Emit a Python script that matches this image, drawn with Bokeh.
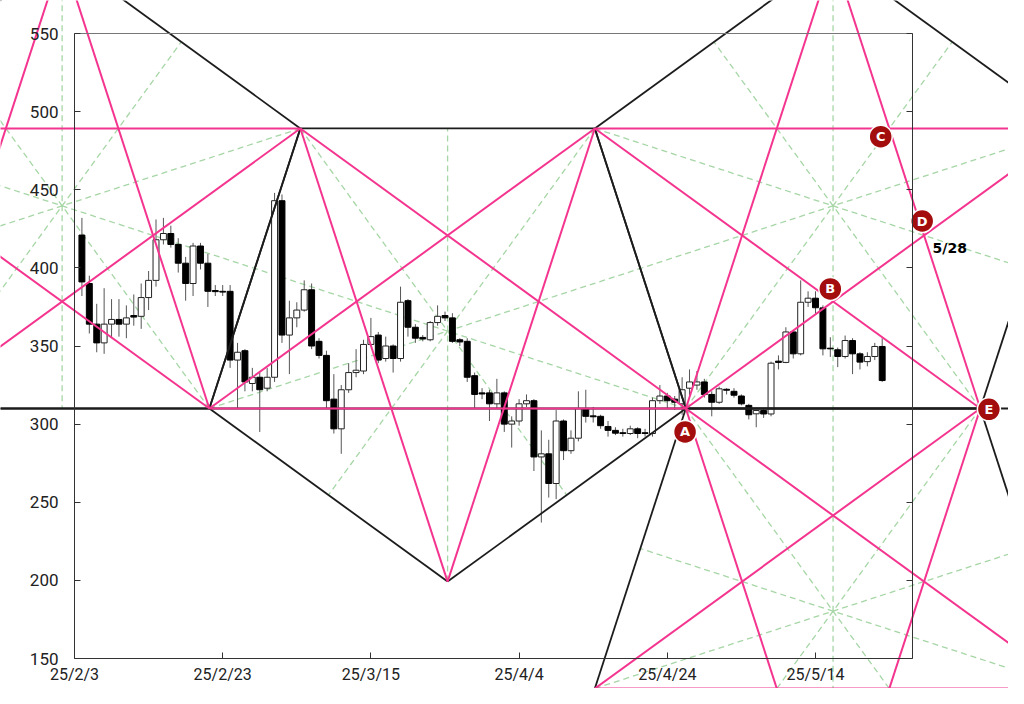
import numpy as np
from bokeh.plotting import figure
from bokeh.models import Range1d, FixedTicker, LinearAxis, ColumnDataSource
from bokeh.core.properties import value
from bokeh.embed import file_html
from bokeh.resources import INLINE

# ---------------- data ----------------
tick_days = [0, 20, 40, 60, 80, 100]
tick_labels = ["25/2/3", "25/2/23", "25/3/15", "25/4/4", "25/4/24", "25/5/14"]
price_ticks = [150, 200, 250, 300, 350, 400, 450, 500, 550]

days = list(range(1, 110))
opens = [421, 390, 364, 352, 364, 367, 364, 369.5, 369, 381,
         392, 418, 422, 415, 403, 390, 414, 403, 385.5, 385,
         385, 341, 347, 326, 330, 323, 330, 443, 357, 368,
         373, 386, 353, 344, 316, 297, 322, 333, 334, 351,
         357, 342, 350, 342, 379, 362, 355.5, 354, 365, 369.5,
         368, 354, 353, 331, 320, 320, 313, 320, 300, 302,
         313, 315, 279, 281, 262, 302, 283, 291, 310, 305.3,
         305, 298.5, 296, 294.5, 294, 297, 294.5, 294, 315, 318,
         316, 313, 323, 325, 327, 319, 314, 322.3, 321, 318,
         312, 306.6, 308.7, 306.5, 340.3, 339.5, 359, 345, 378, 380.6,
         374.4, 348.6, 347.6, 343.3, 353.5, 345, 340, 343.3, 349.7]
highs = [432, 395, 377, 387, 380, 380, 376, 383, 390, 398,
         431, 432, 427, 419, 407, 416, 416, 409, 389, 389,
         389, 352, 348, 336, 333, 336, 448, 447, 379, 378,
         392, 390, 355, 347, 332, 325, 339, 348, 354, 368,
         359, 356, 351, 388, 380, 364, 357, 366, 376, 372,
         371, 355, 355, 333, 323, 322, 329, 321, 305, 316,
         319, 316, 296, 290, 309, 303, 296, 321, 322, 311,
         306, 302, 298, 297, 299, 298, 297, 317, 325, 320,
         318, 330, 335, 334, 329, 321, 324, 323, 323, 319,
         313, 309, 310, 340, 344, 362, 360, 392, 385, 385,
         376, 355.6, 349, 356.7, 355, 346, 346, 352, 355]
lows = [382, 358, 346, 345, 355, 356, 355, 363, 361, 373,
        388, 415, 413, 397, 379, 382, 399, 375, 382, 382,
        336, 310, 321, 321, 295, 321, 327, 352, 332, 362,
        372, 348, 342, 310, 294, 281, 320, 330, 332, 350,
        339, 340, 333, 340, 356, 352, 353, 353, 363, 366,
        352, 350, 327, 310, 316, 302, 310, 295, 285, 299,
        311, 270, 237, 253, 252, 277, 281, 289, 301, 301,
        297, 292, 293, 292, 293, 291, 292, 292, 313, 310,
        309, 306, 318, 322, 317, 305, 313, 319, 317, 312,
        303, 298, 304, 305, 335, 339, 342, 344, 375, 370.6,
        344, 343, 336.5, 342, 332, 335, 337, 341, 327]
closes = [391, 364, 352, 364, 367, 364, 368, 368.5, 381, 392,
          418, 422, 415, 403, 390, 414, 403, 385, 384.8, 384.5,
          341, 346, 327, 330, 322, 330, 443, 357, 368, 373,
          386, 350, 344, 315, 297, 322, 333, 334.5, 351, 356,
          341, 350, 342, 378, 362, 355, 354.5, 365, 369, 368,
          353, 352.6, 330, 319, 319.3, 313, 320, 300, 302, 313,
          315, 279, 281, 262, 302, 283, 291, 310, 305, 304.7,
          299, 296, 294.2, 294, 297, 294, 294, 315, 318, 315,
          314, 322, 327, 327, 319, 314, 322.6, 321.7, 318.5, 313,
          306, 308.7, 306.5, 339, 339.5, 359, 345, 378, 380.6, 374.5,
          348.2, 348.2, 343.3, 353.5, 345, 339.7, 343.3, 349.7, 327.9]

# pentagon construction anchors (two lower vertices of the central pentagon)
pent_anchor_days = [18.2, 82.5]
pent_anchor_price = 310.0
level_price = 310.0

marker_labels = ["A", "B", "C", "D", "E"]
marker_days = [82.4, 102.0, 108.8, 114.4, 123.4]
marker_prices = [295.0, 386.5, 484.0, 430.0, 309.5]
note_text = ["5/28"]
note_days = [115.8]
note_prices = [413.0]

# ---------------- layout ----------------
W, H = 1008, 688
KX = 7.41      # px per day
KY = 1.5625    # px per price unit
X_DAY0 = 74    # canvas px of day 0
Y_550 = 33     # canvas px of price 550
x_start = -X_DAY0 / KX
x_end = x_start + W / KX
y_end = 550 + Y_550 / KY
y_start = y_end - H / KY
X_RIGHT = 113.1

p = figure(width=W, height=H, x_range=Range1d(x_start, x_end),
           y_range=Range1d(y_start, y_end), output_backend="svg",
           toolbar_location=None, min_border=0, outline_line_color=None)
p.grid.visible = False
p.background_fill_color = "white"
p.border_fill_color = "white"

FONT = "Roboto"
AX_COL = "#333333"

xa = p.xaxis[0]
xa.fixed_location = 150
xa.bounds = (0, X_RIGHT)
xa.ticker = FixedTicker(ticks=tick_days)
xa.major_label_overrides = {d: l for d, l in zip(tick_days, tick_labels)}
xa.major_tick_in = 6
xa.major_tick_out = 0
xa.minor_tick_line_color = None
xa.major_label_standoff = 6
xa.major_label_text_font = FONT
xa.major_label_text_font_size = "16px"
xa.major_label_text_color = "#222222"
xa.axis_line_color = AX_COL
xa.major_tick_line_color = AX_COL

ya = p.yaxis[0]
ya.fixed_location = 0
ya.bounds = (150, 550)
ya.ticker = FixedTicker(ticks=price_ticks)
ya.major_tick_in = 6
ya.major_tick_out = 0
ya.minor_tick_line_color = None
ya.major_label_standoff = 16
ya.major_label_text_font = FONT
ya.major_label_text_font_size = "17px"
ya.major_label_text_color = "#222222"
ya.axis_line_color = AX_COL
ya.major_tick_line_color = AX_COL

ra = LinearAxis(fixed_location=X_RIGHT, bounds=(150, 550),
                ticker=FixedTicker(ticks=price_ticks), major_tick_in=6,
                major_tick_out=0, minor_tick_line_color=None,
                major_label_text_alpha=0, axis_line_color=AX_COL,
                major_tick_line_color=AX_COL)
p.add_layout(ra, "right")
ta = LinearAxis(fixed_location=550, bounds=(0, X_RIGHT),
                ticker=FixedTicker(ticks=[]), major_tick_in=0,
                major_tick_out=0, minor_tick_line_color=None,
                major_label_text_alpha=0, axis_line_color="#777777")
p.add_layout(ta, "above")

# ---------------- geometry (regular pentagons in screen space) ----------------
def to_px(d, pr):
    return np.array([d * KX, pr * KY])

def to_data(v):
    return v[0] / KX, v[1] / KY

def reflect(pt, a, b):
    u = (b - a) / np.linalg.norm(b - a)
    v = pt - a
    return a + 2 * np.dot(v, u) * u - v

Lp = to_px(pent_anchor_days[0], pent_anchor_price)
Rp = to_px(pent_anchor_days[1], pent_anchor_price)
diag = Rp[0] - Lp[0]
rc = diag / (2 * np.cos(np.radians(18)))
cen = (Lp + Rp) / 2 + np.array([0, rc * np.sin(np.radians(18))])
P1 = [cen + rc * np.array([np.cos(np.radians(a)), np.sin(np.radians(a))])
      for a in (-18, 54, 126, 198, 270)]
P0 = [reflect(v, P1[2], P1[3]) for v in P1]
P2 = [reflect(v, P1[0], P1[1]) for v in P1]
P3 = [reflect(v, P2[0], P2[4]) for v in P2]
pents = [P0, P1, P2, P3]

edges, diags, greens = [], [], []
for P in pents:
    for i in range(5):
        edges.append((P[i], P[(i + 1) % 5]))
        diags.append((P[i], P[(i + 2) % 5]))
        mid = (P[(i + 2) % 5] + P[(i + 3) % 5]) / 2
        greens.append((P[i], mid))

def seg_src(segs):
    x0, y0, x1, y1 = [], [], [], []
    for a, b in segs:
        ax, ay = to_data(a)
        bx, by = to_data(b)
        x0.append(ax); y0.append(ay); x1.append(bx); y1.append(by)
    return ColumnDataSource(dict(x0=x0, y0=y0, x1=x1, y1=y1))

# green dashed guides
p.segment("x0", "y0", "x1", "y1", source=seg_src(greens), line_color="#a6d6a6",
          line_width=1.3, line_dash="6 4")

# ---------------- candles ----------------
d_arr = np.array(days, dtype=float)
o = np.array(opens, dtype=float)
c = np.array(closes, dtype=float)
hi = np.array(highs, dtype=float)
lo = np.array(lows, dtype=float)
up = c >= o
p.segment(d_arr, lo, d_arr, hi, line_color="#555555", line_width=1)
p.vbar(x=d_arr[up], width=0.8, top=np.maximum(o, c)[up], bottom=np.minimum(o, c)[up],
       fill_color="white", line_color="#222222", line_width=1)
p.vbar(x=d_arr[~up], width=0.8, top=np.maximum(o, c)[~up], bottom=np.minimum(o, c)[~up],
       fill_color="black", line_color="black", line_width=1)

# ---------------- black edges & level, pink diagonals ----------------
p.segment([x_start], [level_price], [x_end], [level_price], line_color="#1c1c1c", line_width=1.8)
p.segment("x0", "y0", "x1", "y1", source=seg_src(edges), line_color="#1c1c1c", line_width=1.8)
p.segment("x0", "y0", "x1", "y1", source=seg_src(diags), line_color="#f4358f", line_width=2)

# ---------------- markers ----------------
p.scatter(marker_days, marker_prices, size=23, marker="circle", fill_color="#a30d0d",
          line_color="white", line_width=1.5)
p.text(marker_days, marker_prices, text=marker_labels, text_color="white",
       text_font=value("DejaVu Sans"), text_font_style="bold", text_font_size="13px",
       text_align="center", text_baseline="middle")
p.text(note_days, note_prices, text=note_text, text_color="black",
       text_font=value("DejaVu Sans"), text_font_style="bold", text_font_size="14px",
       text_align="left", text_baseline="middle")

open("out.html", "w").write(file_html(p, INLINE))
